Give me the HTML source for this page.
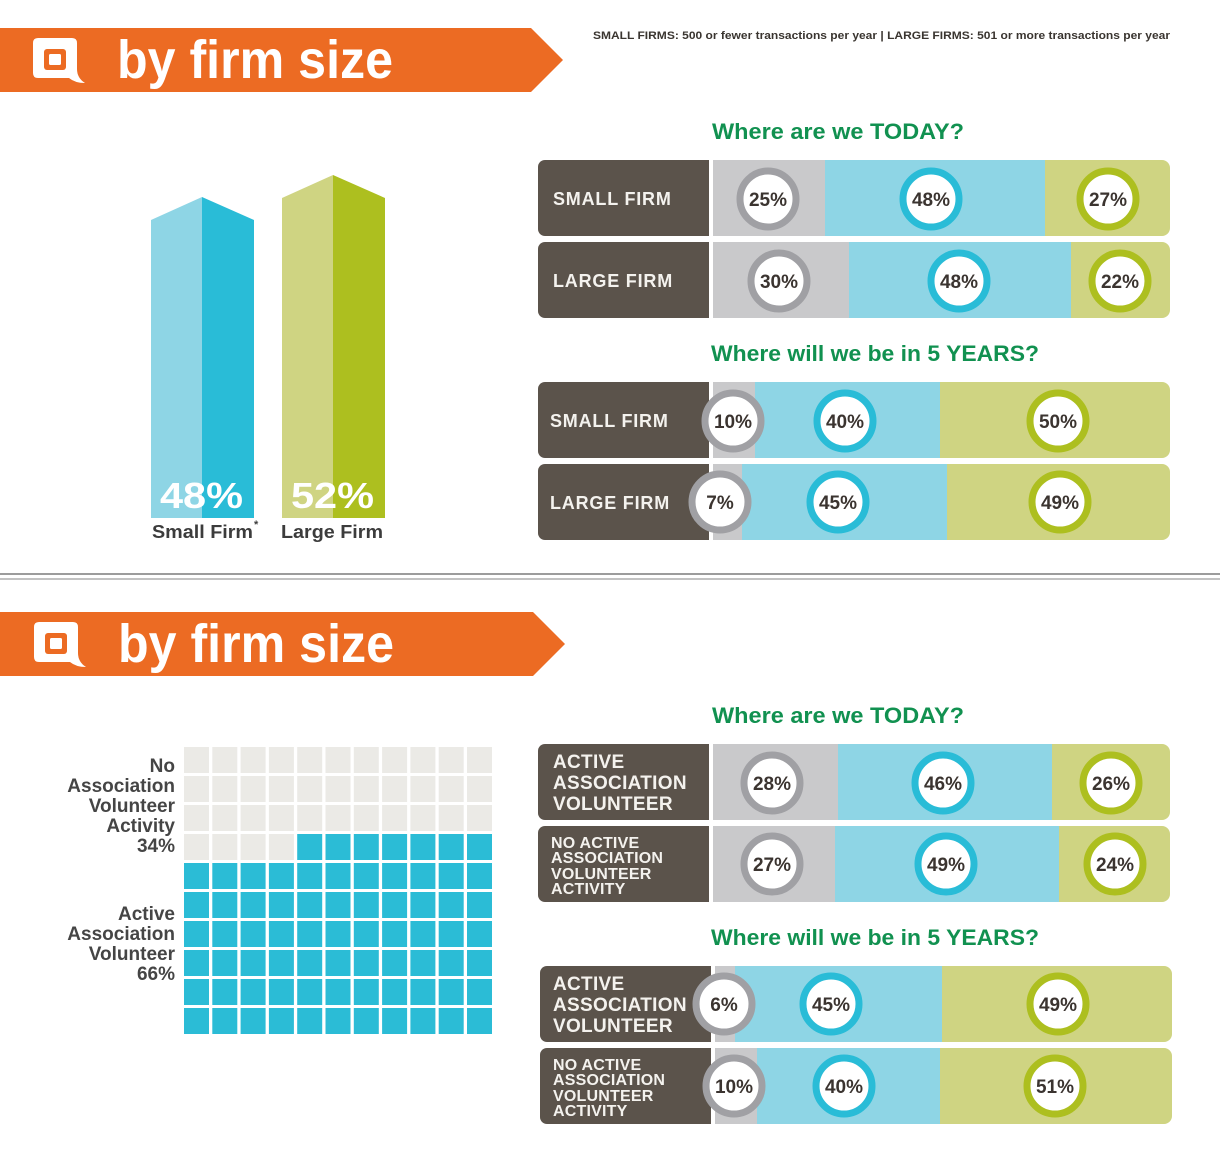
<!DOCTYPE html>
<html><head><meta charset="utf-8"><style>
html,body{margin:0;padding:0;background:#fff;}
svg{display:block;}
text{font-family:"Liberation Sans",sans-serif;}
</style></head><body>
<svg width="1220" height="1155" viewBox="0 0 1220 1155" xmlns="http://www.w3.org/2000/svg">
<defs>
<g id="icon">
  <path d="M5,0 L39,0 Q44,0 44,5 L44,31 Q44,40 52,45 Q42,45 36,40 L5,40 Q0,40 0,35 L0,5 Q0,0 5,0 Z" fill="#fff"/>
  <rect x="11" y="11" width="22" height="21" rx="3" fill="#ec6b23"/>
  <rect x="16" y="16" width="12" height="11" rx="1.5" fill="#fff"/>
</g>
</defs>

<!-- Banner 1 -->
<polygon points="0,28 531,28 563,60 531,92 0,92" fill="#ec6b23"/>
<use href="#icon" x="33" y="38"/>
<text x="117" y="78" font-size="54" font-weight="bold" fill="#fff" textLength="276" lengthAdjust="spacingAndGlyphs">by firm size</text>

<text x="593" y="39" font-size="11" font-weight="bold" fill="#3a3530" textLength="577" lengthAdjust="spacingAndGlyphs">SMALL FIRMS: 500 or fewer transactions per year | LARGE FIRMS: 501 or more transactions per year</text>

<!-- 3D bars -->
<polygon points="151,220 202,197 202,518 151,518" fill="#8ed5e5"/>
<polygon points="202,197 254,220 254,518 202,518" fill="#29bcd7"/>
<polygon points="282,198 333,175 333,518 282,518" fill="#cfd482"/>
<polygon points="333,175 385,198 385,518 333,518" fill="#adbf1f"/>
<text x="160" y="508" font-size="36" font-weight="bold" fill="#fff" textLength="83" lengthAdjust="spacingAndGlyphs">48%</text>
<text x="291" y="508" font-size="36" font-weight="bold" fill="#fff" textLength="83" lengthAdjust="spacingAndGlyphs">52%</text>
<text x="152" y="538" font-size="18" font-weight="bold" fill="#3c3c3c" textLength="101" lengthAdjust="spacingAndGlyphs">Small Firm</text>
<text x="254" y="528" font-size="11" font-weight="bold" fill="#3c3c3c">*</text>
<text x="281" y="538" font-size="18" font-weight="bold" fill="#3c3c3c" textLength="102" lengthAdjust="spacingAndGlyphs">Large Firm</text>

<!-- Titles top -->
<text x="712" y="139" font-size="22" font-weight="bold" fill="#119150" textLength="252" lengthAdjust="spacingAndGlyphs">Where are we TODAY?</text>
<text x="711" y="361" font-size="22" font-weight="bold" fill="#119150" textLength="328" lengthAdjust="spacingAndGlyphs">Where will we be in 5 YEARS?</text>

<!-- Row 1 -->
<g>
<rect x="713" y="160" width="457" height="76" rx="8" fill="#cfd482"/>
<rect x="713" y="160" width="112" height="76" fill="#c9c9cb"/>
<rect x="825" y="160" width="220" height="76" fill="#8ed5e5"/>
<rect x="538" y="160" width="171" height="76" rx="7" fill="#5b534b"/>
<rect x="700" y="160" width="9" height="76" fill="#5b534b"/>
<text x="553" y="205" font-size="18" font-weight="bold" fill="#f4f2ee" letter-spacing="0.8">SMALL FIRM</text>
<circle cx="768" cy="199" r="28" fill="#fff" stroke="#a0a0a4" stroke-width="7"/>
<circle cx="931" cy="199" r="28" fill="#fff" stroke="#29bcd7" stroke-width="7"/>
<circle cx="1108" cy="199" r="28" fill="#fff" stroke="#adbf1f" stroke-width="7"/>
<text x="768" y="206" font-size="19" font-weight="bold" fill="#3b3430" text-anchor="middle">25%</text>
<text x="931" y="206" font-size="19" font-weight="bold" fill="#3b3430" text-anchor="middle">48%</text>
<text x="1108" y="206" font-size="19" font-weight="bold" fill="#3b3430" text-anchor="middle">27%</text>
</g>
<!-- Row 2 -->
<g>
<rect x="713" y="242" width="457" height="76" rx="8" fill="#cfd482"/>
<rect x="713" y="242" width="136" height="76" fill="#c9c9cb"/>
<rect x="849" y="242" width="222" height="76" fill="#8ed5e5"/>
<rect x="538" y="242" width="171" height="76" rx="7" fill="#5b534b"/>
<rect x="700" y="242" width="9" height="76" fill="#5b534b"/>
<text x="553" y="287" font-size="18" font-weight="bold" fill="#f4f2ee" letter-spacing="0.8">LARGE FIRM</text>
<circle cx="779" cy="281" r="28" fill="#fff" stroke="#a0a0a4" stroke-width="7"/>
<circle cx="959" cy="281" r="28" fill="#fff" stroke="#29bcd7" stroke-width="7"/>
<circle cx="1120" cy="281" r="28" fill="#fff" stroke="#adbf1f" stroke-width="7"/>
<text x="779" y="288" font-size="19" font-weight="bold" fill="#3b3430" text-anchor="middle">30%</text>
<text x="959" y="288" font-size="19" font-weight="bold" fill="#3b3430" text-anchor="middle">48%</text>
<text x="1120" y="288" font-size="19" font-weight="bold" fill="#3b3430" text-anchor="middle">22%</text>
</g>
<!-- Row 3 -->
<g>
<rect x="713" y="382" width="457" height="76" rx="8" fill="#cfd482"/>
<rect x="713" y="382" width="42" height="76" fill="#c9c9cb"/>
<rect x="755" y="382" width="185" height="76" fill="#8ed5e5"/>
<rect x="538" y="382" width="171" height="76" rx="7" fill="#5b534b"/>
<rect x="700" y="382" width="9" height="76" fill="#5b534b"/>
<text x="550" y="427" font-size="18" font-weight="bold" fill="#f4f2ee" letter-spacing="0.8">SMALL FIRM</text>
<circle cx="733" cy="421" r="28" fill="#fff" stroke="#a0a0a4" stroke-width="7"/>
<circle cx="845" cy="421" r="28" fill="#fff" stroke="#29bcd7" stroke-width="7"/>
<circle cx="1058" cy="421" r="28" fill="#fff" stroke="#adbf1f" stroke-width="7"/>
<text x="733" y="428" font-size="19" font-weight="bold" fill="#3b3430" text-anchor="middle">10%</text>
<text x="845" y="428" font-size="19" font-weight="bold" fill="#3b3430" text-anchor="middle">40%</text>
<text x="1058" y="428" font-size="19" font-weight="bold" fill="#3b3430" text-anchor="middle">50%</text>
</g>
<!-- Row 4 -->
<g>
<rect x="713" y="464" width="457" height="76" rx="8" fill="#cfd482"/>
<rect x="713" y="464" width="29" height="76" fill="#c9c9cb"/>
<rect x="742" y="464" width="205" height="76" fill="#8ed5e5"/>
<rect x="538" y="464" width="171" height="76" rx="7" fill="#5b534b"/>
<rect x="700" y="464" width="9" height="76" fill="#5b534b"/>
<text x="550" y="509" font-size="18" font-weight="bold" fill="#f4f2ee" letter-spacing="0.8">LARGE FIRM</text>
<circle cx="720" cy="502" r="28" fill="#fff" stroke="#a0a0a4" stroke-width="7"/>
<circle cx="838" cy="502" r="28" fill="#fff" stroke="#29bcd7" stroke-width="7"/>
<circle cx="1060" cy="502" r="28" fill="#fff" stroke="#adbf1f" stroke-width="7"/>
<text x="720" y="509" font-size="19" font-weight="bold" fill="#3b3430" text-anchor="middle">7%</text>
<text x="838" y="509" font-size="19" font-weight="bold" fill="#3b3430" text-anchor="middle">45%</text>
<text x="1060" y="509" font-size="19" font-weight="bold" fill="#3b3430" text-anchor="middle">49%</text>
</g>

<!-- Divider -->
<rect x="0" y="573" width="1220" height="2" fill="#9c9c9c"/>
<rect x="0" y="578" width="1220" height="2" fill="#c2c2c2"/>

<!-- Banner 2 -->
<polygon points="0,612 533,612 565,644 533,676 0,676" fill="#ec6b23"/>
<use href="#icon" x="34" y="622"/>
<text x="118" y="662" font-size="54" font-weight="bold" fill="#fff" textLength="276" lengthAdjust="spacingAndGlyphs">by firm size</text>

<!-- Grid labels -->
<g font-size="19" font-weight="bold" fill="#454545" text-anchor="end">
<text x="175" y="772">No</text>
<text x="175" y="792">Association</text>
<text x="175" y="812">Volunteer</text>
<text x="175" y="832">Activity</text>
<text x="175" y="852">34%</text>
<text x="175" y="920">Active</text>
<text x="175" y="940">Association</text>
<text x="175" y="960">Volunteer</text>
<text x="175" y="980">66%</text>
</g>

<!-- Titles bottom -->
<text x="712" y="723" font-size="22" font-weight="bold" fill="#119150" textLength="252" lengthAdjust="spacingAndGlyphs">Where are we TODAY?</text>
<text x="711" y="945" font-size="22" font-weight="bold" fill="#119150" textLength="328" lengthAdjust="spacingAndGlyphs">Where will we be in 5 YEARS?</text>

<!-- Row 5 -->
<g>
<rect x="713" y="744" width="457" height="76" rx="8" fill="#cfd482"/>
<rect x="713" y="744" width="125" height="76" fill="#c9c9cb"/>
<rect x="838" y="744" width="214" height="76" fill="#8ed5e5"/>
<rect x="538" y="744" width="171" height="76" rx="7" fill="#5b534b"/>
<rect x="700" y="744" width="9" height="76" fill="#5b534b"/>
<g font-size="19" font-weight="bold" fill="#f4f2ee" letter-spacing="0.3">
<text x="553" y="768">ACTIVE</text>
<text x="553" y="789">ASSOCIATION</text>
<text x="553" y="810">VOLUNTEER</text>
</g>
<circle cx="772" cy="783" r="28" fill="#fff" stroke="#a0a0a4" stroke-width="7"/>
<circle cx="943" cy="783" r="28" fill="#fff" stroke="#29bcd7" stroke-width="7"/>
<circle cx="1111" cy="783" r="28" fill="#fff" stroke="#adbf1f" stroke-width="7"/>
<text x="772" y="790" font-size="19" font-weight="bold" fill="#3b3430" text-anchor="middle">28%</text>
<text x="943" y="790" font-size="19" font-weight="bold" fill="#3b3430" text-anchor="middle">46%</text>
<text x="1111" y="790" font-size="19" font-weight="bold" fill="#3b3430" text-anchor="middle">26%</text>
</g>
<!-- Row 6 -->
<g>
<rect x="713" y="826" width="457" height="76" rx="8" fill="#cfd482"/>
<rect x="713" y="826" width="122" height="76" fill="#c9c9cb"/>
<rect x="835" y="826" width="224" height="76" fill="#8ed5e5"/>
<rect x="538" y="826" width="171" height="76" rx="7" fill="#5b534b"/>
<rect x="700" y="826" width="9" height="76" fill="#5b534b"/>
<g font-size="16" font-weight="bold" fill="#f4f2ee" letter-spacing="0.2">
<text x="551" y="848">NO ACTIVE</text>
<text x="551" y="863">ASSOCIATION</text>
<text x="551" y="879">VOLUNTEER</text>
<text x="551" y="894">ACTIVITY</text>
</g>
<circle cx="772" cy="864" r="28" fill="#fff" stroke="#a0a0a4" stroke-width="7"/>
<circle cx="946" cy="864" r="28" fill="#fff" stroke="#29bcd7" stroke-width="7"/>
<circle cx="1115" cy="864" r="28" fill="#fff" stroke="#adbf1f" stroke-width="7"/>
<text x="772" y="871" font-size="19" font-weight="bold" fill="#3b3430" text-anchor="middle">27%</text>
<text x="946" y="871" font-size="19" font-weight="bold" fill="#3b3430" text-anchor="middle">49%</text>
<text x="1115" y="871" font-size="19" font-weight="bold" fill="#3b3430" text-anchor="middle">24%</text>
</g>
<!-- Row 7 -->
<g>
<rect x="715" y="966" width="457" height="76" rx="8" fill="#cfd482"/>
<rect x="715" y="966" width="20" height="76" fill="#c9c9cb"/>
<rect x="735" y="966" width="207" height="76" fill="#8ed5e5"/>
<rect x="540" y="966" width="171" height="76" rx="7" fill="#5b534b"/>
<rect x="702" y="966" width="9" height="76" fill="#5b534b"/>
<g font-size="19" font-weight="bold" fill="#f4f2ee" letter-spacing="0.3">
<text x="553" y="990">ACTIVE</text>
<text x="553" y="1011">ASSOCIATION</text>
<text x="553" y="1032">VOLUNTEER</text>
</g>
<circle cx="724" cy="1004" r="28" fill="#fff" stroke="#a0a0a4" stroke-width="7"/>
<circle cx="831" cy="1004" r="28" fill="#fff" stroke="#29bcd7" stroke-width="7"/>
<circle cx="1058" cy="1004" r="28" fill="#fff" stroke="#adbf1f" stroke-width="7"/>
<text x="724" y="1011" font-size="19" font-weight="bold" fill="#3b3430" text-anchor="middle">6%</text>
<text x="831" y="1011" font-size="19" font-weight="bold" fill="#3b3430" text-anchor="middle">45%</text>
<text x="1058" y="1011" font-size="19" font-weight="bold" fill="#3b3430" text-anchor="middle">49%</text>
</g>
<!-- Row 8 -->
<g>
<rect x="715" y="1048" width="457" height="76" rx="8" fill="#cfd482"/>
<rect x="715" y="1048" width="42" height="76" fill="#c9c9cb"/>
<rect x="757" y="1048" width="183" height="76" fill="#8ed5e5"/>
<rect x="540" y="1048" width="171" height="76" rx="7" fill="#5b534b"/>
<rect x="702" y="1048" width="9" height="76" fill="#5b534b"/>
<g font-size="16" font-weight="bold" fill="#f4f2ee" letter-spacing="0.2">
<text x="553" y="1070">NO ACTIVE</text>
<text x="553" y="1085">ASSOCIATION</text>
<text x="553" y="1101">VOLUNTEER</text>
<text x="553" y="1116">ACTIVITY</text>
</g>
<circle cx="734" cy="1086" r="28" fill="#fff" stroke="#a0a0a4" stroke-width="7"/>
<circle cx="844" cy="1086" r="28" fill="#fff" stroke="#29bcd7" stroke-width="7"/>
<circle cx="1055" cy="1086" r="28" fill="#fff" stroke="#adbf1f" stroke-width="7"/>
<text x="734" y="1093" font-size="19" font-weight="bold" fill="#3b3430" text-anchor="middle">10%</text>
<text x="844" y="1093" font-size="19" font-weight="bold" fill="#3b3430" text-anchor="middle">40%</text>
<text x="1055" y="1093" font-size="19" font-weight="bold" fill="#3b3430" text-anchor="middle">51%</text>
</g>

<!-- Waffle cells -->
<g>
<g fill="#ebeae6">
<rect x="184" y="747" width="25" height="26"/><rect x="212.3" y="747" width="25" height="26"/><rect x="240.6" y="747" width="25" height="26"/><rect x="268.9" y="747" width="25" height="26"/><rect x="297.2" y="747" width="25" height="26"/><rect x="325.5" y="747" width="25" height="26"/><rect x="353.8" y="747" width="25" height="26"/><rect x="382.1" y="747" width="25" height="26"/><rect x="410.4" y="747" width="25" height="26"/><rect x="438.7" y="747" width="25" height="26"/><rect x="467" y="747" width="25" height="26"/>
<rect x="184" y="776" width="25" height="26"/><rect x="212.3" y="776" width="25" height="26"/><rect x="240.6" y="776" width="25" height="26"/><rect x="268.9" y="776" width="25" height="26"/><rect x="297.2" y="776" width="25" height="26"/><rect x="325.5" y="776" width="25" height="26"/><rect x="353.8" y="776" width="25" height="26"/><rect x="382.1" y="776" width="25" height="26"/><rect x="410.4" y="776" width="25" height="26"/><rect x="438.7" y="776" width="25" height="26"/><rect x="467" y="776" width="25" height="26"/>
<rect x="184" y="805" width="25" height="26"/><rect x="212.3" y="805" width="25" height="26"/><rect x="240.6" y="805" width="25" height="26"/><rect x="268.9" y="805" width="25" height="26"/><rect x="297.2" y="805" width="25" height="26"/><rect x="325.5" y="805" width="25" height="26"/><rect x="353.8" y="805" width="25" height="26"/><rect x="382.1" y="805" width="25" height="26"/><rect x="410.4" y="805" width="25" height="26"/><rect x="438.7" y="805" width="25" height="26"/><rect x="467" y="805" width="25" height="26"/>
<rect x="184" y="834" width="25" height="26"/><rect x="212.3" y="834" width="25" height="26"/><rect x="240.6" y="834" width="25" height="26"/><rect x="268.9" y="834" width="25" height="26"/>
</g>
<g fill="#2bbcd6">
<rect x="297.2" y="834" width="25" height="26"/><rect x="325.5" y="834" width="25" height="26"/><rect x="353.8" y="834" width="25" height="26"/><rect x="382.1" y="834" width="25" height="26"/><rect x="410.4" y="834" width="25" height="26"/><rect x="438.7" y="834" width="25" height="26"/><rect x="467" y="834" width="25" height="26"/>
<rect x="184" y="863" width="25" height="26"/><rect x="212.3" y="863" width="25" height="26"/><rect x="240.6" y="863" width="25" height="26"/><rect x="268.9" y="863" width="25" height="26"/><rect x="297.2" y="863" width="25" height="26"/><rect x="325.5" y="863" width="25" height="26"/><rect x="353.8" y="863" width="25" height="26"/><rect x="382.1" y="863" width="25" height="26"/><rect x="410.4" y="863" width="25" height="26"/><rect x="438.7" y="863" width="25" height="26"/><rect x="467" y="863" width="25" height="26"/>
<rect x="184" y="892" width="25" height="26"/><rect x="212.3" y="892" width="25" height="26"/><rect x="240.6" y="892" width="25" height="26"/><rect x="268.9" y="892" width="25" height="26"/><rect x="297.2" y="892" width="25" height="26"/><rect x="325.5" y="892" width="25" height="26"/><rect x="353.8" y="892" width="25" height="26"/><rect x="382.1" y="892" width="25" height="26"/><rect x="410.4" y="892" width="25" height="26"/><rect x="438.7" y="892" width="25" height="26"/><rect x="467" y="892" width="25" height="26"/>
<rect x="184" y="921" width="25" height="26"/><rect x="212.3" y="921" width="25" height="26"/><rect x="240.6" y="921" width="25" height="26"/><rect x="268.9" y="921" width="25" height="26"/><rect x="297.2" y="921" width="25" height="26"/><rect x="325.5" y="921" width="25" height="26"/><rect x="353.8" y="921" width="25" height="26"/><rect x="382.1" y="921" width="25" height="26"/><rect x="410.4" y="921" width="25" height="26"/><rect x="438.7" y="921" width="25" height="26"/><rect x="467" y="921" width="25" height="26"/>
<rect x="184" y="950" width="25" height="26"/><rect x="212.3" y="950" width="25" height="26"/><rect x="240.6" y="950" width="25" height="26"/><rect x="268.9" y="950" width="25" height="26"/><rect x="297.2" y="950" width="25" height="26"/><rect x="325.5" y="950" width="25" height="26"/><rect x="353.8" y="950" width="25" height="26"/><rect x="382.1" y="950" width="25" height="26"/><rect x="410.4" y="950" width="25" height="26"/><rect x="438.7" y="950" width="25" height="26"/><rect x="467" y="950" width="25" height="26"/>
<rect x="184" y="979" width="25" height="26"/><rect x="212.3" y="979" width="25" height="26"/><rect x="240.6" y="979" width="25" height="26"/><rect x="268.9" y="979" width="25" height="26"/><rect x="297.2" y="979" width="25" height="26"/><rect x="325.5" y="979" width="25" height="26"/><rect x="353.8" y="979" width="25" height="26"/><rect x="382.1" y="979" width="25" height="26"/><rect x="410.4" y="979" width="25" height="26"/><rect x="438.7" y="979" width="25" height="26"/><rect x="467" y="979" width="25" height="26"/>
<rect x="184" y="1008" width="25" height="26"/><rect x="212.3" y="1008" width="25" height="26"/><rect x="240.6" y="1008" width="25" height="26"/><rect x="268.9" y="1008" width="25" height="26"/><rect x="297.2" y="1008" width="25" height="26"/><rect x="325.5" y="1008" width="25" height="26"/><rect x="353.8" y="1008" width="25" height="26"/><rect x="382.1" y="1008" width="25" height="26"/><rect x="410.4" y="1008" width="25" height="26"/><rect x="438.7" y="1008" width="25" height="26"/><rect x="467" y="1008" width="25" height="26"/>
</g>
</g>
</svg>
</body></html>
